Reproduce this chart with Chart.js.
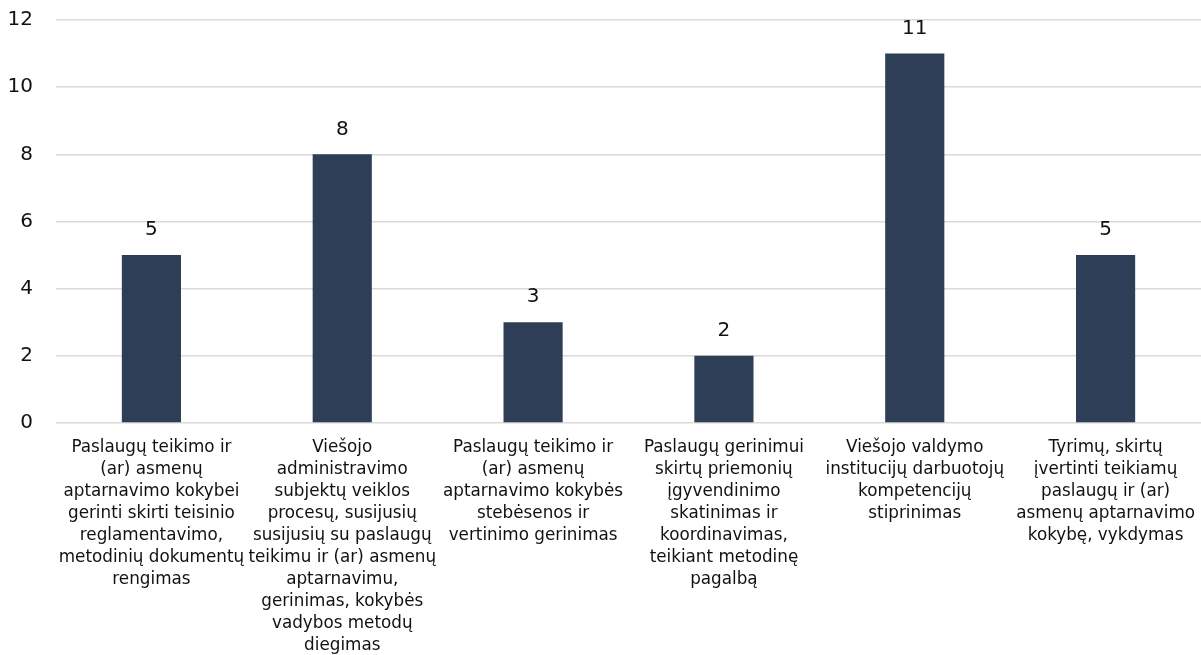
<!DOCTYPE html>
<html>
<head>
<meta charset="utf-8">
<script src="https://cdn.jsdelivr.net/npm/chart.js@4"></script>
<style>
  html, body { margin: 0; padding: 0; background: #ffffff; }
  #wrap { width: 1201px; height: 655px; }
</style>
</head>
<body>
<div id="wrap"><canvas id="chart"></canvas></div>
<script>
// Kategorijos (eilutės taip, kaip suskaidytos paveiksle)
const categories = [
    ['Paslaugų teikimo ir', '(ar) asmenų', 'aptarnavimo kokybei', 'gerinti skirti teisinio', 'reglamentavimo,', 'metodinių dokumentų', 'rengimas'],
    ['Viešojo', 'administravimo', 'subjektų veiklos', 'procesų, susijusių', 'susijusių su paslaugų', 'teikimu ir (ar) asmenų', 'aptarnavimu,', 'gerinimas, kokybės', 'vadybos metodų', 'diegimas'],
    ['Paslaugų teikimo ir', '(ar) asmenų', 'aptarnavimo kokybės', 'stebėsenos ir', 'vertinimo gerinimas'],
    ['Paslaugų gerinimui', 'skirtų priemonių', 'įgyvendinimo', 'skatinimas ir', 'koordinavimas,', 'teikiant metodinę', 'pagalbą'],
    ['Viešojo valdymo', 'institucijų darbuotojų', 'kompetencijų', 'stiprinimas'],
    ['Tyrimų, skirtų', 'įvertinti teikiamų', 'paslaugų ir (ar)', 'asmenų aptarnavimo', 'kokybę, vykdymas']
];
const values = [5, 8, 3, 2, 11, 5];
const yTicks = [0, 2, 4, 6, 8, 10, 12];

const FONT = "'DejaVu Sans', Tahoma, sans-serif";

// Reikšmės virš stulpelių
const valueLabels = {
    id: 'valueLabels',
    afterDatasetsDraw(chart) {
        const ctx = chart.ctx;
        const meta = chart.getDatasetMeta(0);
        ctx.save();
        ctx.font = '20px ' + FONT;
        ctx.fillStyle = '#111111';
        ctx.textAlign = 'center';
        ctx.textBaseline = 'middle';
        meta.data.forEach((bar, i) => {
            ctx.fillText(String(values[i]), bar.x, bar.y - 25);
        });
        ctx.restore();
    }
};

new Chart(document.getElementById('chart').getContext('2d'), {
    type: 'bar',
    data: {
        labels: categories,
        datasets: [{
            data: values,
            backgroundColor: '#2e3e57',
            borderWidth: 0,
            categoryPercentage: 1,
            barPercentage: 0.31
        }]
    },
    options: {
        responsive: true,
        maintainAspectRatio: false,
        animation: false,
        layout: { padding: { top: 0, right: 0, bottom: 0, left: 6 } },
        plugins: {
            legend: { display: false },
            tooltip: { enabled: false }
        },
        scales: {
            x: {
                grid: { display: false },
                border: { display: false },
                afterFit(scale) {
                    scale.height = 232;
                    scale.paddingLeft = 0;
                    scale.paddingRight = 0;
                },
                ticks: {
                    color: '#111111',
                    font: { family: FONT, size: 16.8, lineHeight: 1.31 },
                    padding: 6,
                    maxRotation: 0,
                    autoSkip: false
                }
            },
            y: {
                min: 0,
                max: 12,
                afterBuildTicks(scale) {
                    scale.ticks = yTicks.map(v => ({ value: v }));
                },
                afterFit(scale) {
                    scale.width = 50;
                    scale.paddingTop = 20;
                    scale.paddingBottom = 0;
                },
                grid: { color: '#d9d9d9', lineWidth: 1.5, drawTicks: false },
                border: { display: false },
                ticks: {
                    color: '#111111',
                    font: { family: FONT, size: 20 },
                    padding: 23
                }
            }
        }
    },
    plugins: [valueLabels]
});
</script>
</body>
</html>
